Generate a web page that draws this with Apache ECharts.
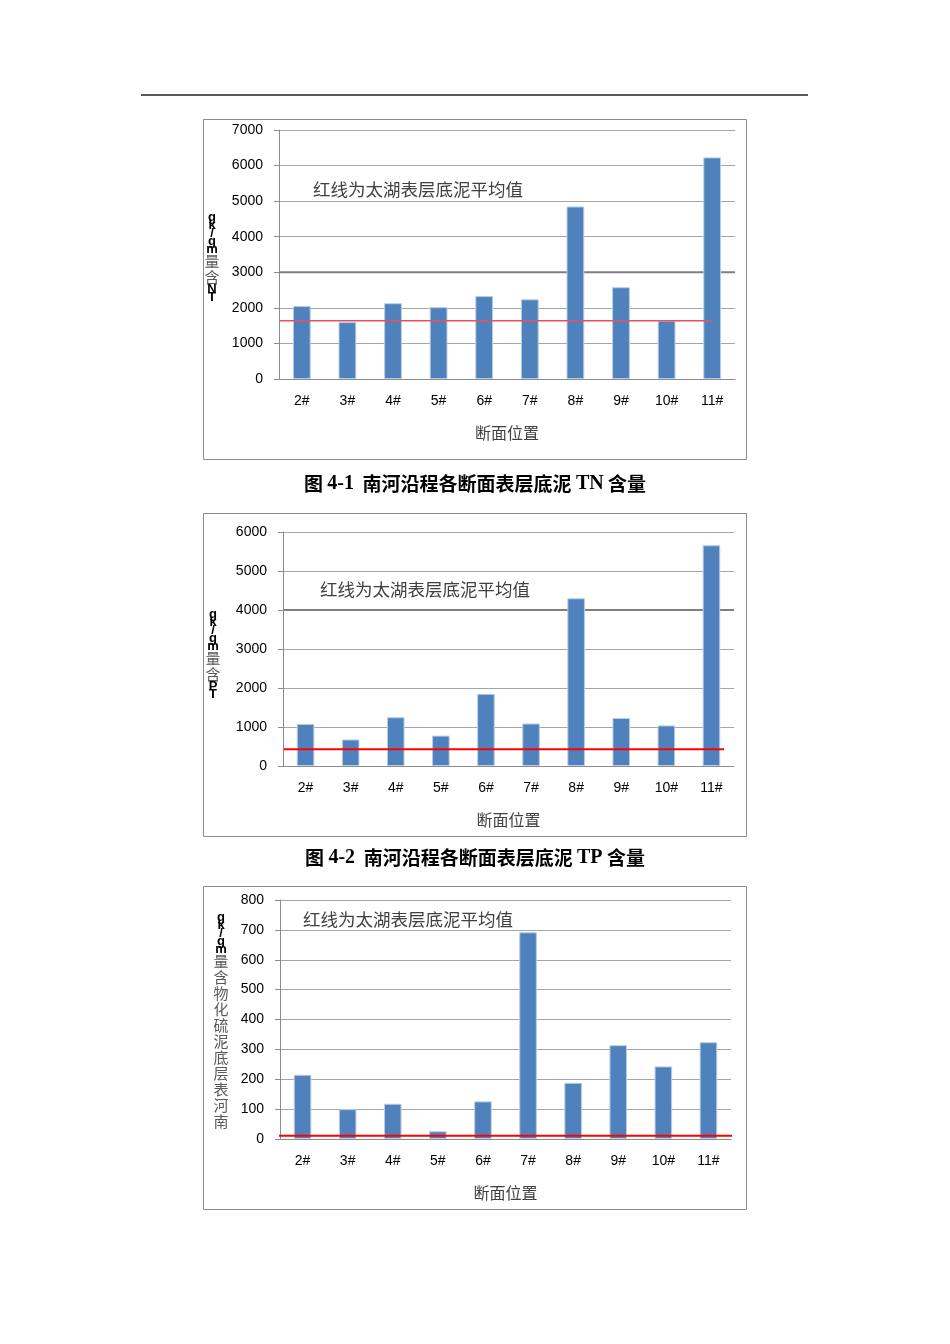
<!DOCTYPE html>
<html lang="zh-CN">
<head>
<meta charset="utf-8">
<title>南河沿程各断面表层底泥含量</title>
<script src="https://cdn.jsdelivr.net/npm/echarts@6/dist/echarts.min.js"></script>
<style>
    html, body { margin: 0; padding: 0; background: #ffffff; }
    #main { width: 950px; height: 1344px; }
</style>
</head>
<body>
<div id="main"></div>
<script type="text/javascript">
// 断面位置
var categories = ['2#', '3#', '4#', '5#', '6#', '7#', '8#', '9#', '10#', '11#'];

// 各断面含量 (mg/kg)
var tnValues = [2050, 1600, 2130, 2020, 2330, 2240, 4850, 2580, 1640, 6230];
var tpValues = [1080, 680, 1250, 780, 1850, 1090, 4300, 1230, 1040, 5660];
var sulfideValues = [215, 100, 118, 26, 126, 692, 188, 314, 243, 324];

// 太湖表层底泥平均值（红线）
var taihuMean = [1640, 430, 11];
// 红线在横轴上的起止（以断面格为单位，0~10）
var redSpans = [[0.02, 9.49], [0.02, 9.78], [-0.05, 10.15]];

// 纵轴刻度
var yMax = [7000, 6000, 800];
var yStep = [1000, 1000, 100];
// 较深的网格线
var darkGrid = [3000, 4000, null];

var yNames = ['TN含量mg/kg', 'TP含量mg/kg', '南河表层底泥硫化物含量mg/kg'];
var xName = '断面位置';
var noteText = '红线为太湖表层底泥平均值';
var captions = [
    ['图 ', '4-1', '  南河沿程各断面表层底泥 ', 'TN', ' 含量'],
    ['图 ', '4-2', '  南河沿程各断面表层底泥 ', 'TP', ' 含量']
];

var seriesValues = [tnValues, tpValues, sulfideValues];

var grids = [
    {left: 279, top: 130, width: 456, height: 249},
    {left: 283, top: 532, width: 451, height: 234},
    {left: 280, top: 900, width: 451, height: 239}
];
var boxes = [[203, 119, 543, 340], [203, 513, 543, 323], [203, 886, 543, 323]];
var notePos = [[313, 189], [320, 589], [303, 919]];
var yNamePos = [[212, 213], [213, 610], [221, 913]];
var captionY = [484, 858];

var labelFont = '"Liberation Sans", Arial, sans-serif';
var cjkFont = '"Noto Sans CJK SC", sans-serif';

var option = {
    backgroundColor: '#ffffff',
    animation: false,
    grid: [],
    xAxis: [],
    yAxis: [],
    series: [],
    graphic: []
};

// 纵向坐标名（字符逐个竖排，顺序倒置）
function verticalName(str) {
    var chars = str.split('').reverse();
    var lines = [];
    for (var i = 0; i < chars.length; i++) {
        var ch = chars[i];
        if (/[\u4e00-\u9fa5]/.test(ch)) {
            lines.push('{c|' + ch + '}');
        } else {
            lines.push('{l|' + ch + '}');
        }
    }
    return lines.join('\n');
}

for (var k = 0; k < 3; k++) {
    option.grid.push(grids[k]);

    option.xAxis.push({
        type: 'category',
        gridIndex: k,
        data: categories,
        name: xName,
        nameLocation: 'middle',
        nameGap: 46,
        nameTextStyle: {fontFamily: cjkFont, fontSize: 16, color: '#404040'},
        axisLine: {lineStyle: {color: '#8c8c8c', width: 1}},
        axisTick: {show: false},
        axisLabel: {fontFamily: labelFont, fontSize: 14, color: '#000', margin: 15}
    });
    // 隐藏的数值横轴，用于画红线
    option.xAxis.push({
        type: 'value',
        gridIndex: k,
        min: 0,
        max: 10,
        show: false
    });

    option.yAxis.push({
        type: 'value',
        gridIndex: k,
        min: 0,
        max: yMax[k],
        interval: yStep[k],
        axisLine: {show: true, lineStyle: {color: '#8c8c8c', width: 1}},
        axisTick: {show: true, length: 5, lineStyle: {color: '#8c8c8c'}},
        axisLabel: {
            fontFamily: labelFont, fontSize: 14, color: '#000', margin: 16,
            formatter: function (v) { return String(v); }
        },
        splitLine: {lineStyle: {color: '#a6a6a6', width: 1}}
    });

    option.series.push({
        type: 'bar',
        xAxisIndex: k * 2,
        yAxisIndex: k,
        data: seriesValues[k],
        barWidth: '39%',
        z: 2,
        itemStyle: {color: '#4f81bd', borderColor: '#b9cde5', borderWidth: 1}
    });

    if (darkGrid[k] !== null) {
        option.series.push({
            type: 'line',
            xAxisIndex: k * 2 + 1,
            yAxisIndex: k,
            data: [[0, darkGrid[k]], [10, darkGrid[k]]],
            symbol: 'none',
            silent: true,
            z: 1,
            lineStyle: {color: '#7f7f7f', width: 2}
        });
    }

    option.series.push({
        type: 'line',
        xAxisIndex: k * 2 + 1,
        yAxisIndex: k,
        data: [[redSpans[k][0], taihuMean[k]], [redSpans[k][1], taihuMean[k]]],
        symbol: 'none',
        silent: true,
        clip: false,
        z: 4,
        lineStyle: k === 0 ? {color: '#e8505e', width: 1.5} : {color: '#ff0000', width: 2}
    });

    // 外框
    option.graphic.push({
        type: 'rect',
        shape: {x: boxes[k][0] + 0.5, y: boxes[k][1] + 0.5, width: boxes[k][2], height: boxes[k][3]},
        style: {fill: 'none', stroke: '#8c8c8c', lineWidth: 1},
        z: -1
    });

    // 注释文字
    option.graphic.push({
        type: 'text',
        x: notePos[k][0],
        y: notePos[k][1],
        style: {
            text: noteText,
            font: '17.5px ' + cjkFont,
            fill: '#404040',
            textVerticalAlign: 'middle'
        }
    });

    // 纵轴名
    option.graphic.push({
        type: 'text',
        x: yNamePos[k][0],
        y: yNamePos[k][1],
        style: {
            text: verticalName(yNames[k]),
            align: 'center',
            rich: {
                l: {fontFamily: labelFont, fontWeight: 'bold', fontSize: 13, lineHeight: 8, fill: '#000', align: 'center'},
                c: {fontFamily: cjkFont, fontSize: 15, lineHeight: 16, fill: '#595959', align: 'center'}
            }
        }
    });
}

// 页眉横线
option.graphic.push({
    type: 'line',
    shape: {x1: 141, y1: 95, x2: 808, y2: 95},
    style: {stroke: '#595959', lineWidth: 2}
});

// 图题
for (var c = 0; c < captions.length; c++) {
    var parts = captions[c];
    var txt = '{h|' + parts[0] + '}{n|' + parts[1] + '}{h|' + parts[2] + '}{n|' + parts[3] + '}{h|' + parts[4] + '}';
    option.graphic.push({
        type: 'text',
        x: 475,
        y: captionY[c],
        style: {
            text: txt,
            align: 'center',
            verticalAlign: 'middle',
            rich: {
                h: {fontFamily: cjkFont, fontWeight: 'bold', fontSize: 19, fill: '#000'},
                n: {fontFamily: '"Liberation Serif", "Times New Roman", serif', fontWeight: 'bold', fontSize: 20, fill: '#000'}
            }
        }
    });
}

var chart = echarts.init(document.getElementById('main'));
chart.setOption(option);
</script>
</body>
</html>
